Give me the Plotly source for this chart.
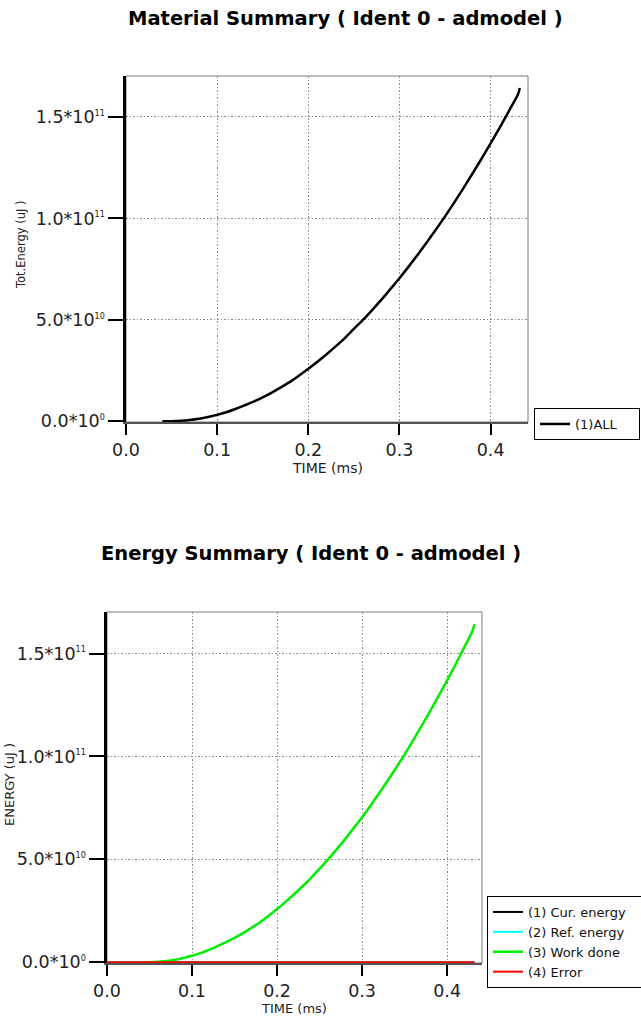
import plotly.graph_objects as go

# ---------------- data ----------------
time_ms = [0.04, 0.05, 0.06, 0.07, 0.08, 0.09, 0.10, 0.11, 0.12, 0.13, 0.14,
           0.15, 0.16, 0.17, 0.18, 0.19, 0.20, 0.21, 0.22, 0.23, 0.24, 0.25,
           0.26, 0.27, 0.28, 0.29, 0.30, 0.31, 0.32, 0.33, 0.34, 0.35, 0.36,
           0.37, 0.38, 0.39, 0.40, 0.41, 0.42, 0.43, 0.432]

# total energy of material (1)ALL, in units of 1e10 uJ
all_energy_e10 = [0.0, 0.001, 0.02, 0.06, 0.12, 0.205, 0.31, 0.44, 0.60, 0.78, 0.97,
                  1.18, 1.41, 1.67, 1.94, 2.25, 2.58, 2.93, 3.30, 3.69, 4.10, 4.55,
                  5.00, 5.48, 5.98, 6.51, 7.05, 7.62, 8.21, 8.82, 9.45, 10.10, 10.78,
                  11.48, 12.20, 12.94, 13.70, 14.48, 15.29, 16.12, 16.43]

# energy summary series
time_full_ms = [0.0] + time_ms
work_done_e10 = all_energy_e10
cur_energy = [0.0, 0.0, 0.0, 0.0, 0.0, 0.0, 0.0, 0.0, 0.0, 0.0, 0.0, 0.0, 0.0, 0.0,
              0.0, 0.0, 0.0, 0.0, 0.0, 0.0, 0.0, 0.0, 0.0, 0.0, 0.0, 0.0, 0.0, 0.0,
              0.0, 0.0, 0.0, 0.0, 0.0, 0.0, 0.0, 0.0, 0.0, 0.0, 0.0, 0.0, 0.0, 0.0]
ref_energy = list(cur_energy)
error_energy = list(cur_energy)

x_tickvals = [0.0, 0.1, 0.2, 0.3, 0.4]
x_ticktext = ["0.0", "0.1", "0.2", "0.3", "0.4"]
y_tickvals = [0.0, 5.0e10, 1.0e11, 1.5e11]
y_mantissa = ["0.0", "5.0", "1.0", "1.5"]
y_exponent = ["0", "10", "11", "11"]

all_energy = [v * 1e10 for v in all_energy_e10]
work_done = [v * 1e10 for v in work_done_e10]
y_ticktext = [m + "*10<sup><span style='font-size:8px'>" + e + "</span></sup>"
              for m, e in zip(y_mantissa, y_exponent)]

# ---------------- layout helpers ----------------
W, H = 641, 1017
FONT = "DejaVu Sans, Verdana, sans-serif"
PAD1 = "\u00a0" * 4   # invisible padding so the legend boxes reach the page edge
PAD2 = "\u00a0" * 3


def px(x):
    return x / W


def py(y):
    return 1 - y / H


fig = go.Figure()

fig.add_trace(go.Scatter(x=time_ms, y=all_energy, mode="lines", name="(1)ALL" + PAD1,
                         line=dict(color="black", width=2.5, shape="spline"),
                         xaxis="x", yaxis="y", legend="legend", cliponaxis=False))

fig.add_trace(go.Scatter(x=time_full_ms, y=cur_energy, mode="lines",
                         name="(1) Cur. energy" + PAD2,
                         line=dict(color="black", width=2),
                         xaxis="x2", yaxis="y2", legend="legend2", cliponaxis=False))
fig.add_trace(go.Scatter(x=time_full_ms, y=ref_energy, mode="lines", name="(2) Ref. energy",
                         line=dict(color="#00ffff", width=2),
                         xaxis="x2", yaxis="y2", legend="legend2", cliponaxis=False))
fig.add_trace(go.Scatter(x=time_ms, y=work_done, mode="lines", name="(3) Work done",
                         line=dict(color="#00ee00", width=2.5, shape="spline"),
                         xaxis="x2", yaxis="y2", legend="legend2", cliponaxis=False))
fig.add_trace(go.Scatter(x=time_full_ms, y=error_energy, mode="lines", name="(4) Error",
                         line=dict(color="#ff0000", width=2),
                         xaxis="x2", yaxis="y2", legend="legend2", cliponaxis=False))

common = dict(ticks="outside", tickwidth=2, tickcolor="black",
              showgrid=True, gridcolor="#8c8c8c", griddash="1.5px,2px", gridwidth=1,
              showline=True, zeroline=False, fixedrange=True,
              tickfont=dict(size=17.5, color="#222222", family=FONT))

xcommon = dict(common, range=[0, 0.441], tickvals=x_tickvals, ticktext=x_ticktext,
               ticklen=11, linecolor="#555555", linewidth=2, layer="below traces")
ycommon = dict(common, range=[-0.004e11, 1.702e11], tickvals=y_tickvals,
               ticktext=y_ticktext, ticklen=15, linecolor="black", linewidth=2.5)

legend_common = dict(xanchor="left", yanchor="top", bordercolor="black", borderwidth=1,
                     bgcolor="white", tracegroupgap=0,
                     font=dict(size=13, family=FONT, color="#111111"))

fig.update_layout(
    width=W, height=H,
    margin=dict(l=0, r=0, t=0, b=0, autoexpand=False),
    paper_bgcolor="white", plot_bgcolor="white",
    font=dict(family=FONT, color="black"),
    showlegend=True,
    xaxis=dict(xcommon, domain=[px(126), px(528)], anchor="y"),
    yaxis=dict(ycommon, domain=[py(422), py(76)], anchor="x"),
    xaxis2=dict(xcommon, domain=[px(107), px(482)], anchor="y2"),
    yaxis2=dict(ycommon, domain=[py(963), py(612)], anchor="x2"),
    legend=dict(legend_common, x=px(534), y=py(408)),
    legend2=dict(legend_common, x=px(487), y=py(896)),
    shapes=[
        dict(type="rect", xref="x domain", yref="y domain", x0=0, x1=1, y0=0, y1=1,
             line=dict(color="#777777", width=1), layer="below"),
        dict(type="rect", xref="x2 domain", yref="y2 domain", x0=0, x1=1, y0=0, y1=1,
             line=dict(color="#777777", width=1), layer="below"),
    ],
    annotations=[
        dict(text="<b>Material Summary ( Ident 0 - admodel )</b>", x=px(345), y=py(18),
             xref="paper", yref="paper", xanchor="center", yanchor="middle",
             showarrow=False, font=dict(size=19.5, family=FONT, color="black")),
        dict(text="<b>Energy Summary ( Ident 0 - admodel )</b>", x=px(311), y=py(553),
             xref="paper", yref="paper", xanchor="center", yanchor="middle",
             showarrow=False, font=dict(size=19.5, family=FONT, color="black")),
        dict(text="TIME (ms)", x=px(327), y=py(468), xref="paper", yref="paper",
             xanchor="center", yanchor="middle", showarrow=False,
             font=dict(size=14, family=FONT, color="#222222")),
        dict(text="Tot.Energy (uJ )", x=px(21), y=py(245), xref="paper", yref="paper",
             xanchor="center", yanchor="middle", showarrow=False, textangle=-90,
             font=dict(size=11.5, family=FONT, color="#222222")),
        dict(text="TIME (ms)", x=px(294), y=py(1008), xref="paper", yref="paper",
             xanchor="center", yanchor="middle", showarrow=False,
             font=dict(size=13, family=FONT, color="#222222")),
        dict(text="ENERGY (uJ )", x=px(9), y=py(785), xref="paper", yref="paper",
             xanchor="center", yanchor="middle", showarrow=False, textangle=-90,
             font=dict(size=13, family=FONT, color="#222222")),
    ],
)

fig.write_html("out.html", config={"displayModeBar": False},
               post_script="document.body.style.margin='0';"
                           "document.body.style.overflow='hidden';")
